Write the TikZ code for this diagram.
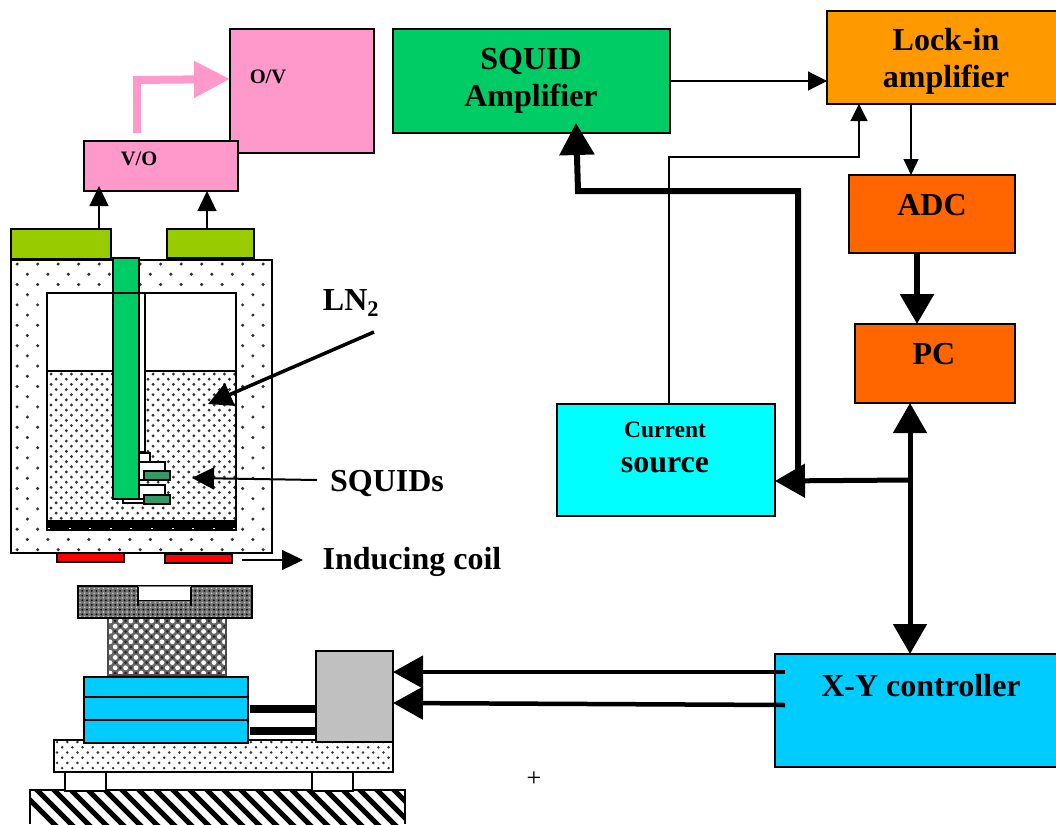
\documentclass[tikz,border=0pt]{standalone}
\usepackage{fontspec}
\setmainfont{Liberation Serif}
\usetikzlibrary{arrows.meta}
\definecolor{pinkb}{HTML}{FF99CC}
\definecolor{greenb}{HTML}{00CC66}
\definecolor{orangeb}{HTML}{FF9900}
\definecolor{orangec}{HTML}{FF6600}
\definecolor{cyanb}{HTML}{00FFFF}
\definecolor{blueb}{HTML}{00CCFF}
\definecolor{oliveb}{HTML}{99CC00}
\definecolor{seag}{HTML}{339966}
\definecolor{greyb}{HTML}{C0C0C0}
\newcommand{\dotarea}[7]{% x0 y0 x1 y1 pitchx pitchy radius
  \begin{scope}
  \clip (#1,#2) rectangle (#3,#4);
  \foreach \r in {0,...,80}{
    \pgfmathsetmacro{\yy}{#2+(\r+0.4)*#6}
    \pgfmathsetmacro{\off}{mod(\r,2)*#5/2}
    \ifdim\yy pt<#4pt
    \foreach \c in {0,...,60}{
      \pgfmathsetmacro{\xx}{#1+\off+(\c+0.3)*#5}
      \ifdim\xx pt<#3pt
      \fill[black!80] (\xx,\yy) circle (#7);
      \fi
    }
    \fi
  }
  \end{scope}
}
\tikzset{
  x=1pt,y=-1pt,
  boxn/.style={draw=black,line width=1.8pt,rectangle,inner sep=0pt,outer sep=0pt,anchor=north west},
  partn/.style={draw=black,line width=1.4pt,rectangle,inner sep=0pt,outer sep=0pt,anchor=north west},
  lab/.style={font=\bfseries,inner sep=0pt,align=center},
  big/.style={font=\bfseries\fontsize{32}{37}\selectfont},
  thinc/.style={line width=1.2pt,draw=black},
  thinarrow/.style={line width=1.2pt,draw=black,-{Triangle[length=19pt,width=19pt]}},
  thickarrow/.style={line width=5pt,draw=black,-{Triangle[length=30pt,width=33pt]}},
  thickdouble/.style={line width=5pt,draw=black,{Triangle[length=30pt,width=33pt]}-{Triangle[length=30pt,width=33pt]}},
  sidearrow/.style={line width=4.5pt,draw=black,-{Triangle[length=30pt,width=32pt]}},
}
\begin{document}
\begin{tikzpicture}
\useasboundingbox (0,0) rectangle (1056,824);
\fill[white] (0,0) rectangle (1056,824);

% --- right-hand block diagram ---
\node[boxn,fill=greenb,minimum width=277pt,minimum height=104pt] (squid) at (393,29) {};
\node[lab,big] (squidt) at (531,81) {SQUID\\Amplifier};
\node[boxn,fill=orangeb,minimum width=232pt,minimum height=93pt] (lock) at (827,11) {};
\node[lab,big] (lockt) at (946,61) {Lock-in\\amplifier};
\node[boxn,fill=orangec,minimum width=166pt,minimum height=78pt] (adc) at (849,175) {};
\node[lab,big] (adct) at (932,205) {ADC};
\node[boxn,fill=orangec,minimum width=160pt,minimum height=79pt] (pc) at (855,324) {};
\node[lab,big] (pct) at (934,354) {PC};
\node[boxn,fill=cyanb,minimum width=218pt,minimum height=112pt] (cur) at (557,404) {};
\node[lab,font=\bfseries\fontsize{23.5}{26}\selectfont] (curt) at (665,430) {Current};
\node[lab,big] (srct) at (665,465) {source};
\node[boxn,fill=blueb,minimum width=284pt,minimum height=113pt] (xy) at (775,654) {};
\node[lab,big] (xyt) at (921,686) {X-Y controller};

\coordinate (sqR) at (670,81);
\coordinate (lkL) at (827,81);
\draw[thinarrow] (sqR) -- (lkL);
\coordinate (lkB) at (911,104);
\coordinate (adT) at (911,175);
\draw[thinarrow,-{Triangle[length=16pt,width=15pt]}] (lkB) -- (adT);
\coordinate (adB) at (917,253);
\coordinate (pcT) at (917,324);
\draw[line width=6pt,draw=black,-{Triangle[length=30pt,width=33pt]}] (adB) -- (pcT);
\coordinate (pcB) at (910,403);
\coordinate (xyT) at (910,654);
\draw[thickdouble] (pcB) -- (xyT);
\coordinate (brn) at (910,480);
\coordinate (crR) at (775,481);
\draw[thickarrow] (brn) -- (crR);
\coordinate (up1) at (798,470);
\coordinate (cn1) at (798,191);
\coordinate (cn2) at (578,191);
\coordinate (sqB) at (576,123);
\draw[line width=6pt,draw=black,line join=miter,-{Triangle[length=32pt,width=34pt]}] (up1) -- (cn1) -- (cn2) -- (sqB);
\coordinate (crT) at (669,404);
\coordinate (tc1) at (669,157);
\coordinate (tc2) at (859,157);
\coordinate (lkB2) at (859,104);
\draw[thinc,-{Triangle[length=17pt,width=17pt]}] (crT) -- (tc1) -- (tc2) -- (lkB2);

% --- stage ---
\begin{scope}
\clip (30,790) rectangle (405,824);
\foreach \k in {0,...,32}{ \draw[line width=5pt,black] (10+\k*17,780) -- (10+\k*17+50,830); }
\end{scope}
\coordinate (gA) at (30,824);
\coordinate (gB) at (30,790);
\coordinate (gC) at (405,790);
\coordinate (gD) at (405,824);
\draw[line width=1.6pt] (gA) -- (gB) -- (gC) -- (gD);
\node[partn,fill=white,minimum width=41pt,minimum height=19pt] (foot1) at (65,772) {};
\node[partn,fill=white,minimum width=41pt,minimum height=19pt] (foot2) at (312,772) {};
\dotarea{54}{740}{393}{772}{10.2}{5.2}{1.4}
\node[partn,minimum width=339pt,minimum height=32pt] (base) at (54,740) {};
\node[partn,fill=greyb,minimum width=77pt,minimum height=91pt] (grey) at (316,651) {};
\node[boxn,draw=black,fill=blueb,minimum width=164pt,minimum height=66pt] (blue) at (84,677) {};
\draw[line width=1.6pt] (blue.north west |- 0,697) coordinate (bl1) -- (blue.north east |- 0,697) coordinate (bl2);
\draw[line width=1.6pt] (blue.north west |- 0,720) coordinate (bl3) -- (blue.north east |- 0,720) coordinate (bl4);
\coordinate (r1) at (250,708.5);
\coordinate (g1) at (316,708.5);
\coordinate (r2) at (250,730.5);
\coordinate (g2) at (316,730.5);
\draw[line width=8pt] (r1) -- (g1);
\draw[line width=8pt] (r2) -- (g2);
% column
\begin{scope}
\clip (108,618) rectangle (226,675);
\fill[black!60] (108,618) rectangle (226,675);
\foreach \j in {0,...,11}{
  \pgfmathsetmacro{\off}{mod(\j,2)*5.2}
  \foreach \i in {0,...,12}{
    \fill[white] (110+\off+\i*10.4,621+\j*5.2) circle (2.4);
    \fill[black!85] (115.2+\off+\i*10.4,621+\j*5.2) circle (1.5);
  }
}
\end{scope}
\node[partn,line width=1.2pt,draw=black!70,minimum width=118pt,minimum height=57pt] (column) at (108,618) {};
% plate
\begin{scope}
\clip (78,586) rectangle (252,618);
\fill[black!55] (78,586) rectangle (252,618);
\foreach \j in {0,...,7}{
  \foreach \i in {0,...,37}{
    \fill[black!15] (80+\i*4.7,588.5+\j*4.7) circle (0.8);
    \fill[black] (82.35+\i*4.7,590.85+\j*4.7) circle (1);
  }
}
\end{scope}
\node[partn,line width=1.8pt,minimum width=174pt,minimum height=32pt] (plate) at (78,586) {};
\node[rectangle,fill=white,inner sep=0pt,minimum width=52pt,minimum height=13pt,anchor=north west] (notch) at (138.5,586.5) {};
\draw[line width=1.4pt] (138,586) -- (138,606);
\draw[line width=1.4pt] (191,586) -- (191,606);
\draw[line width=1pt] (138,600) -- (191,600);
\draw[line width=1pt,draw=black!50] (138,586) -- (191,586);

% X-Y to grey box
\coordinate (xyL1) at (785,672);
\coordinate (grR1) at (393,672);
\coordinate (xyL2) at (785,705);
\coordinate (grR2) at (393,703);
\draw[sidearrow] (xyL1) -- (grR1);
\draw[sidearrow] (xyL2) -- (grR2);

% --- cryostat ---
\node[partn,fill=oliveb,minimum width=100pt,minimum height=30pt] (ol1) at (11,229) {};
\node[partn,fill=oliveb,minimum width=87pt,minimum height=29pt] (ol2) at (167,229) {};
\dotarea{11}{260}{272}{553}{20.5}{10.2}{1.7}
\node[partn,minimum width=261pt,minimum height=293pt] (outer) at (11,260) {};
\node[partn,fill=white,minimum width=189pt,minimum height=234pt] (inner) at (47,293) {};
\dotarea{48}{372}{236}{520}{10.2}{5.15}{1.6}
\coordinate (liqL) at (47,371);
\coordinate (liqR) at (236,371);
\draw[line width=1.2pt] (liqL) -- (liqR);
\draw[line width=1.4pt,fill=white] (139,293) rectangle (145,452);
\draw[line width=1.2pt,fill=white] (139,453) rectangle (150,462);
\draw[line width=1.2pt,fill=white] (139,462) rectangle (165,480);
\draw[line width=1.2pt,fill=white] (139,485) rectangle (165,503);
\draw[line width=1.2pt,fill=white] (123,499) rectangle (144,503);
\node[partn,fill=greenb,minimum width=26pt,minimum height=241pt] (rod) at (113,258) {};
\node[partn,line width=1.2pt,fill=seag,minimum width=26pt,minimum height=9pt] (sq1) at (144,471) {};
\node[partn,line width=1.2pt,fill=seag,minimum width=26pt,minimum height=9pt] (sq2) at (144,495) {};
\fill[black] (47,520) rectangle (236,530);
\foreach \k in {0,...,9}{\fill[white] (48+\k*20.6,527.5) rectangle +(2,1.2);}
\draw[line width=1.2pt] (47,293) rectangle (236,530);
\node[partn,fill=red,minimum width=67pt,minimum height=9pt] (coil1) at (57,553) {};
\node[partn,fill=red,minimum width=67pt,minimum height=9pt] (coil2) at (165,554) {};

% --- V/O and O/V ---
\node[boxn,fill=pinkb,minimum width=144pt,minimum height=124pt] (ov) at (230,29) {};
\node[partn,fill=pinkb,minimum width=154pt,minimum height=50pt] (vo) at (84,141) {};
\node[lab,font=\bfseries\fontsize{20.5}{22}\selectfont] (vot) at (139,159) {V/O};
\node[lab,font=\bfseries\fontsize{20.5}{22}\selectfont] (ovt) at (268,77) {O/V};
\coordinate (pk0) at (137,133);
\coordinate (pk1) at (137,80);
\coordinate (pk2) at (230,79);
\draw[draw=pinkb,line width=8pt,line join=miter,-{Triangle[length=36pt,width=35pt]}] (pk0) -- (pk1) -- (pk2);
\coordinate (o1T) at (99,229);
\coordinate (vb1) at (99,186);
\draw[line width=1.2pt,draw=black,-{Triangle[length=20pt,width=19pt]}] (o1T) -- (vb1);
\coordinate (o2T) at (207,229);
\coordinate (vb2) at (207,191);
\draw[line width=1.2pt,draw=black,-{Triangle[length=20pt,width=19pt]}] (o2T) -- (vb2);

% --- callouts ---
\node[lab,big] (lnt) at (351,303) {LN\textsubscript{2}};
\coordinate (lnA) at (374,332);
\coordinate (lnB) at (208,404);
\draw[line width=3.5pt,-{Triangle[length=24pt,width=24pt]}] (lnA) -- (lnB);
\node[lab,big] (sqt) at (387,483) {SQUIDs};
\coordinate (sqA) at (317,480);
\coordinate (sqC) at (192,478);
\draw[line width=2pt,-{Triangle[length=22pt,width=22pt]}] (sqA) -- (sqC);
\node[lab,big] (indt) at (412,562) {Inducing coil};
\coordinate (inA) at (242,560);
\coordinate (inB) at (303,560);
\draw[line width=1.2pt,-{Triangle[length=21pt,width=20pt]}] (inA) -- (inB);
\node[inner sep=0pt,font=\fontsize{26}{28}\selectfont] (plus) at (534,779) {+};
\end{tikzpicture}
\end{document}
